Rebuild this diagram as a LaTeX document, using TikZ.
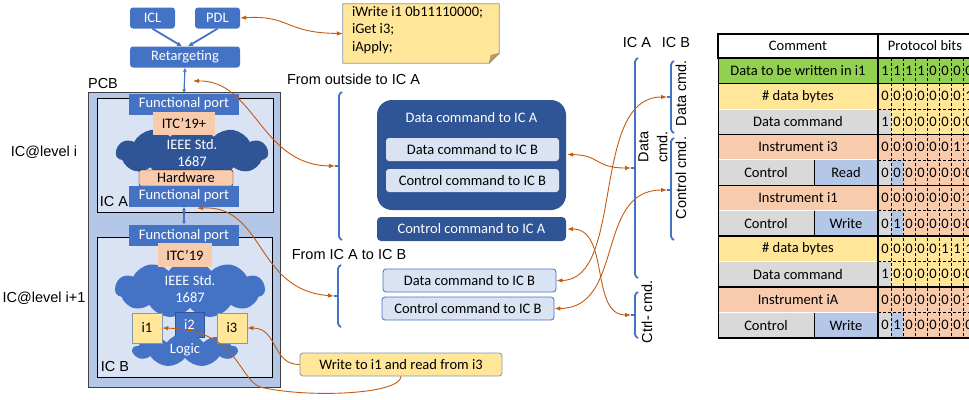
\documentclass[tikz,border=0pt]{standalone}
\usepackage{fontspec}
\setmainfont{Carlito}
\newfontfamily\arialfont{Liberation Sans}
\usepackage{tikz}
\usetikzlibrary{positioning, arrows.meta, shapes.symbols, calc}

\definecolor{medblue}{HTML}{4472C4}
\definecolor{darkblue}{HTML}{2F5597}
\definecolor{lightbg}{HTML}{DAE3F3}
\definecolor{pcbblue}{HTML}{B4C7E7}
\definecolor{peach}{HTML}{F8CBAD}
\definecolor{pale}{HTML}{FFE699}
\definecolor{tgreen}{HTML}{92D050}
\definecolor{tgray}{HTML}{D9D9D9}
\definecolor{linkorange}{HTML}{C55A11}
\definecolor{notegray}{HTML}{8497B0}

\def\boxfont{\fontsize{14.5}{17.5}\selectfont}
\def\labelfont{\arialfont\fontsize{14.5}{17}\selectfont}

\tikzset{
    bluebox/.style={fill=medblue, text=white, inner sep=0, rounded corners=3},
    portbox/.style={fill=medblue, text=white, inner sep=0, minimum width=110, minimum height=21},
    itcbox/.style={fill=peach, inner sep=0},
    cmdbox/.style={fill=darkblue, text=white, inner sep=0, rounded corners=4},
    subbox/.style={fill=lightbg, inner sep=0, rounded corners=3},
    ibox/.style={fill=pale, draw=notegray, line width=0.5, inner sep=0, minimum width=30, minimum height=30},
    puff/.style={cloud, cloud puffs=11, cloud puff arc=110, aspect=3, inner sep=0, text=white, align=center},
    lbl/.style={font=\labelfont, inner sep=0},
    link/.style={linkorange, line width=0.9, {Latex[length=6pt,width=4.5pt]}-{Latex[length=6pt,width=4.5pt]}},
    onelink/.style={linkorange, line width=0.9, -{Latex[length=6pt,width=4.5pt]}},
    flow/.style={medblue, line width=1.8, -{Latex[length=5pt,width=5pt]}},
    portlink/.style={medblue, line width=1.2, {Latex[length=4pt,width=4pt]}-{Latex[length=4pt,width=4pt]}},
    bracket/.style={medblue, line width=1.8, rounded corners=1.5},
}

\def\rowh{25.45}

\begin{document}
\begin{tikzpicture}[x=1pt, y=-1pt, every node/.style={font=\boxfont}]
    \useasboundingbox (0,0) rectangle (969,399);
    \clip (0,0) rectangle (969,399);

    % tool flow
    \node[bluebox, minimum width=45, minimum height=21] (icl) at (152.5,18) {ICL};
    \node[bluebox, minimum width=45, minimum height=21] (pdl) at (217.5,18) {PDL};
    \node[bluebox, minimum width=110, minimum height=21] (retarget) at (185,57) {Retargeting};
    \draw[flow] (icl.south) -- ([xshift=-3]retarget.north);
    \draw[flow] (pdl.south) -- ([xshift=3]retarget.north);

    % board and chips
    \node[draw=black!75, fill=pcbblue, minimum width=192, minimum height=295, inner sep=0] (pcb) at (184,239.5) {};
    \node[draw=black, fill=lightbg, minimum width=176, minimum height=114, inner sep=0] (icA) at (185,155) {};
    \node[draw=black, fill=lightbg, minimum width=175, minimum height=140, inner sep=0] (icB) at (184.5,307) {};
    \node[lbl] (pcblabel) at (103,84) {PCB};
    \node[lbl] (leveli) at (44,152) {IC@level i};
    \node[lbl] (levelii) at (44,298) {IC@level i+1};

    % IC A
    \node[puff, fill=darkblue, minimum width=152, minimum height=42] (stdA) at (192,153) {IEEE Std.\\1687};
    \node[portbox] (portAin) at (184,104) {Functional port};
    \node[itcbox, minimum width=62, minimum height=23] (itcA) at (184,123.5) {ITC’19+};
    \node[itcbox, draw=black, rounded corners=2, minimum width=94, minimum height=16] (hwA) at (186,178) {Hardware};
    \node[portbox] (portAout) at (184,196) {Functional port};
    \node[lbl] (icAlabel) at (114,202) {IC A};

    % IC B
    \node[puff, fill=medblue, minimum width=150, minimum height=58] (stdB) at (190,289) {IEEE Std.\\1687};
    \node[portbox] (portBin) at (184,235.5) {Functional port};
    \node[itcbox, minimum width=54, minimum height=24] (itcB) at (185,255) {ITC’19};
    \node[fill=medblue, text=white, draw=darkblue, line width=0.4, inner sep=0, minimum width=29, minimum height=25] (ib) at (189.5,324.5) {i2};
    \node[puff, fill=medblue, cloud puffs=9, minimum width=104, minimum height=34] (logic) at (185,350) {Logic};
    \node[ibox] (ia) at (147,328) {i1};
    \node[ibox] (ic) at (232,328) {i3};
    \node[lbl] (icBlabel) at (115,367) {IC B};

    % port connections
    \draw[portlink] (retarget.south) -- (portAin.north);
    \draw[portlink] (portAout.south) -- (portBin.north);

    % PDL note
    \node[minimum width=156, minimum height=59, inner sep=0] (code) at (421,33.5) {};
    \draw[fill=pale, draw=notegray, line width=0.8]
        (code.north west) -- (code.north east) -- ([yshift=10]code.south east)
        -- ([xshift=-10]code.south east) -- (code.south west) -- cycle;
    \draw[fill=pale!75!black!40!orange, draw=notegray, line width=0.6]
        ([yshift=10]code.south east) -- ([xshift=-8,yshift=8]code.south east) -- ([xshift=-10]code.south east) -- cycle;
    \node[anchor=north west, align=left, inner sep=0] (codetext) at ([xshift=9,yshift=-2]code.north west)
        {iWrite i1 0b11110000;\\iGet i3;\\iApply;};

    % commands
    \node[lbl] (outsidelabel) at (353.5,79) {From outside to IC A};
    \node[lbl] (ablabel) at (349,255) {From IC A to IC B};
    \node[cmdbox, rounded corners=15, minimum width=189, minimum height=110] (dataA) at (471.5,155) {};
    \node[inner sep=0, text=white] (dataAtitle) at (471.5,118) {Data command to IC A};
    \node[subbox, minimum width=173, minimum height=23] (dataBin) at (472.5,149.5) {Data command to IC B};
    \node[subbox, minimum width=173, minimum height=23] (ctrlBin) at (472.5,180.5) {Control command to IC B};
    \node[cmdbox, minimum width=189, minimum height=24] (ctrlA) at (471.5,229) {Control command to IC A};
    \node[subbox, draw=medblue, line width=0.8, minimum width=173, minimum height=23] (dataB) at (469.5,280.5) {Data command to IC B};
    \node[subbox, draw=medblue, line width=0.8, minimum width=172, minimum height=23] (ctrlB) at (468,308.5) {Control command to IC B};
    \node[fill=pale, draw=notegray, line width=0.8, rounded corners=3, inner sep=0, minimum width=202, minimum height=23] (write) at (401,364.5) {Write to i1 and read from i3};

    % column labels
    \node[lbl] (colA) at (637,43) {IC A};
    \node[lbl] (colB) at (676,43) {IC B};
    \node[lbl, rotate=90, align=center] (dcmdA) at (653,147) {Data\\[2pt]cmd.};
    \node[lbl, rotate=90] (dcmdB) at (681,93) {Data cmd.};
    \node[lbl, rotate=90] (ccmdB) at (681,178) {Control cmd.};
    \node[lbl, rotate=90] (ccmdA) at (647,312) {Ctrl- cmd.};

    % brackets
    \foreach \nm/\bx/\btop/\bbot/\bmid in {
        outA/339/92/240/166,
        aToB/338/265/327/296,
        dataCmdA/635/58/278/168,
        ctrlCmdA/635/292/338/315,
        dataCmdB/671/61/133/97,
        ctrlCmdB/671/138/240/190}
    {
        \draw[bracket] (\bx+3,\btop) -- (\bx,\btop+2) -- (\bx,\bbot-2) -- (\bx+3,\bbot);
        \draw[bracket] (\bx,\bmid) -- (\bx-4,\bmid);
        \coordinate (\nm) at (\bx-4,\bmid);
    }

    % links
    \coordinate (portTap) at (193,81);
    \draw[link] (pdl.east) .. controls (290,15) and (285,33) .. (code.west);
    \draw[link] (portTap) .. controls (255,80) and (260,165) .. (outA);
    \draw[link] ([xshift=13,yshift=-1.5]portAout.south) .. controls (265,205) and (255,290) .. (aToB);
    \draw[onelink] (write.west) .. controls (272,365) and (278,328) .. (ic.east);
    \draw[onelink] (write.south) .. controls (400,395) and (305,398) .. (260,387)
        .. controls (238,378) and (238,330) .. (ia.east);
    \draw[link] ($(dataBin.east -| dataA.east)+(1,5)$) .. controls (600,155) and (595,168) .. (dataCmdA);
    \draw[link] ([xshift=1]ctrlA.east) .. controls (610,229) and (590,315) .. (ctrlCmdA);
    \draw[link] (dataB.east) .. controls (625,280) and (590,97) .. (dataCmdB);
    \draw[link] (ctrlB.east) .. controls (625,308) and (595,190) .. (ctrlCmdB);

    % table header
    \draw[fill=white, line width=1.5] (718,34) rectangle (975,58);
    \node (headComment) at (798,46) {Comment};
    \node (headBits) at (925,46) {Protocol bits};

    % comment cells
    \foreach \r/\xa/\xb/\co/\txt in {
        0/718/878/tgreen/Data to be written in i1,
        1/718/878/pale/\# data bytes,
        2/718/878/tgray/Data command,
        3/718/878/peach/Instrument i3,
        4/718/814/tgray/Control, 4/814/878/pcbblue/Read,
        5/718/878/peach/Instrument i1,
        6/718/814/tgray/Control, 6/814/878/pcbblue/Write,
        7/718/878/pale/\# data bytes,
        8/718/878/tgray/Data command,
        9/718/878/peach/Instrument iA,
        10/718/814/tgray/Control, 10/814/878/pcbblue/Write}
    {
        \fill[\co] (\xa,58+\rowh*\r) rectangle (\xb,58+\rowh*\r+\rowh);
        \node (cm-\r-\xa) at ({(\xa+\xb)/2},58+\rowh*\r+12.7) {\txt};
    }

    % bit cells
    \foreach \r/\co in {0/tgreen,1/pale,2/pale,3/peach,4/peach,5/peach,6/peach,7/pale,8/pale,9/peach,10/peach}
    {
        \fill[\co] (878,58+\rowh*\r) rectangle (975,58+\rowh*\r+\rowh);
    }
    \foreach \r/\k/\co in {2/0/tgray, 4/0/tgray, 4/1/pcbblue, 6/0/tgray, 6/1/pcbblue, 8/0/tgray, 10/0/tgray, 10/1/pcbblue}
    {
        \fill[\co] (879+12*\k,58+\rowh*\r) rectangle (891+12*\k,58+\rowh*\r+\rowh);
    }
    \foreach \r/\bits in {
        0/{1,1,1,1,0,0,0,0},
        1/{0,0,0,0,0,0,0,1},
        2/{1,0,0,0,0,0,0,0},
        3/{0,0,0,0,0,0,1,1},
        4/{0,0,0,0,0,0,0,0},
        5/{0,0,0,0,0,0,0,1},
        6/{0,1,0,0,0,0,0,0},
        7/{0,0,0,0,0,1,1,1},
        8/{1,0,0,0,0,0,0,0},
        9/{0,0,0,0,0,0,0,1},
        10/{0,1,0,0,0,0,0,0}}
    {
        \foreach \b [count=\k from 0] in \bits
            \node[inner sep=0] (bit-\r-\k) at (885+12*\k,58+\rowh*\r+12.7) {\b};
    }

    % grid lines
    \foreach \k in {0,...,6}
        \draw[densely dashed, line width=0.6] (891+12*\k,58) -- (891+12*\k,338);
    \foreach \r in {2,4,6,8,10}
    {
        \draw[white, line width=0.8] (718,58+\rowh*\r) -- (878,58+\rowh*\r);
        \draw[densely dashed, line width=0.6] (878,58+\rowh*\r) -- (975,58+\rowh*\r);
    }
    \foreach \r in {0,1,3,5,7,9,11}
        \draw[line width=1.5] (718,58+\rowh*\r) -- (975,58+\rowh*\r);
    \draw[line width=1] (718,34) -- (718,338);
    \draw[line width=1.8] (878,34) -- (878,338);
    \foreach \r in {4,6,10}
        \draw[line width=0.8] (814,58+\rowh*\r) -- (814,58+\rowh*\r+\rowh);
\end{tikzpicture}
\end{document}
